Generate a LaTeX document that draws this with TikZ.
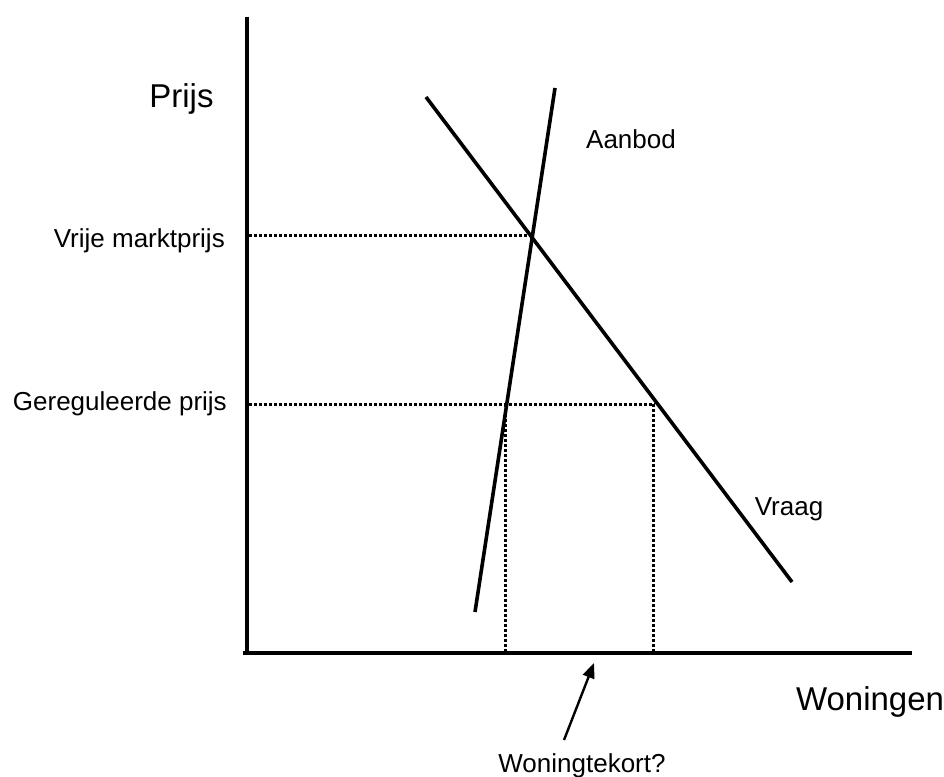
\documentclass[tikz,border=0pt]{standalone}
\usepackage{fontspec}
\setmainfont{Liberation Sans}
\usetikzlibrary{arrows.meta}
\begin{document}
\begin{tikzpicture}
[x=1pt,y=-1pt,
lbl/.style={inner sep=0pt,font=\fontsize{26}{30}\selectfont},
biglbl/.style={inner sep=0pt,font=\fontsize{33}{38}\selectfont},
as/.style={line width=4pt},
curve/.style={line width=3.6pt},
guide/.style={line width=3pt,dash pattern=on 3pt off 2pt},
pijl/.style={line width=2.4pt,-{Triangle[length=15pt,width=12pt]}}]
\useasboundingbox (0,0) rectangle (944,776);
\draw [as] (247,17) -- (247,655);
\draw [as] (243,653) -- (912,653);
\draw [guide] (249,235) -- (532,235);
\draw [guide] (249,404) -- (655,404);
\draw [guide] (505,404) -- (505,652);
\draw [guide] (653,404) -- (653,652);
\draw [curve] (475,612) -- (555,88);
\draw [curve] (426,97) -- (792,582);
\node [biglbl,anchor=base] (prijs) at (181.5,107) {Prijs};
\node [biglbl,anchor=base] (woningen) at (870,710) {Woningen};
\node [lbl,anchor=base east] (vrij) at (225,247) {Vrije marktprijs};
\node [lbl,anchor=base east] (gereguleerd) at (227,410) {Gereguleerde prijs};
\node [lbl,anchor=base] (aanbod) at (631,148) {Aanbod};
\node [lbl,anchor=base] (vraag) at (789,515) {Vraag};
\node [lbl,anchor=base] (tekort) at (582,772) {Woningtekort?};
\coordinate (tekortstart) at (564,740);
\coordinate (tekortpunt) at (594,663);
\draw [pijl] (tekortstart) -- (tekortpunt);
\end{tikzpicture}
\end{document}
